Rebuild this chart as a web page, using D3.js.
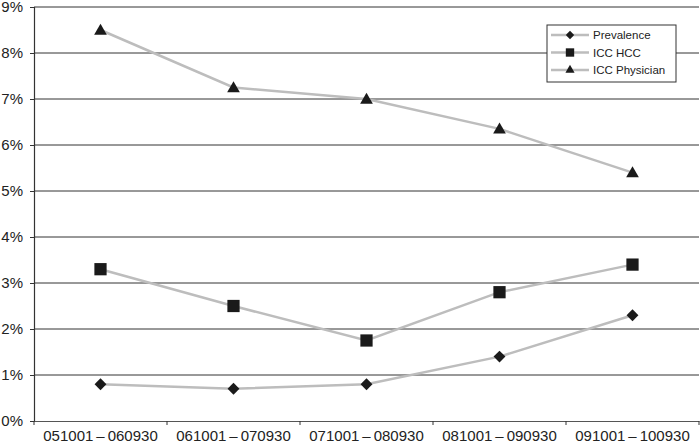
<!DOCTYPE html>
<html><head><meta charset="utf-8">
<script src="https://cdn.jsdelivr.net/npm/d3@7"></script>
<style>body{margin:0;background:#fff}svg{display:block;font-family:Arial,"Liberation Sans",sans-serif}</style>
</head><body><svg id="c" width="700" height="447"></svg>
<script>
const categories = ["051001\u2009\u2013\u2009060930","061001\u2009\u2013\u2009070930","071001\u2009\u2013\u2009080930","081001\u2009\u2013\u2009090930","091001\u2009\u2013\u2009100930"];
const prevalence = [0.8, 0.7, 0.8, 1.4, 2.3];
const iccHcc = [3.3, 2.5, 1.75, 2.8, 3.4];
const iccPhysician = [8.5, 7.25, 7.0, 6.35, 5.4];
const yTicks = [0,1,2,3,4,5,6,7,8,9];
const seriesNames = ["Prevalence","ICC HCC","ICC Physician"];

const svg = d3.select("#c");
const m = {l:34, r:1, t:7, b:26};
const W = 700, H = 447;
const x = d3.scaleBand().domain(categories).range([m.l, W - m.r]);
const y = d3.scaleLinear().domain([0, 9]).range([H - m.b, m.t]);

// gridlines
svg.append("g").selectAll("line").data(yTicks.slice(1)).join("line")
  .attr("x1", m.l).attr("x2", W - m.r)
  .attr("y1", d => y(d)).attr("y2", d => y(d))
  .attr("stroke", "#333").attr("stroke-width", 1);

// y axis
const ya = svg.append("g").attr("transform", `translate(${m.l},0)`)
  .call(d3.axisLeft(y).tickValues(yTicks).tickFormat(d => d + "%").tickSize(4).tickPadding(7));
ya.select(".domain").attr("stroke", "#333").attr("stroke-width", 1.2);
ya.selectAll(".tick line").attr("stroke", "#333");
ya.selectAll("text").attr("font-size", 15).attr("fill", "#222").attr("font-family", "Arial, 'Liberation Sans', sans-serif");

// x axis
const xa = svg.append("g").attr("transform", `translate(0,${H - m.b})`)
  .call(d3.axisBottom(x).tickSize(0).tickPadding(9));
xa.select(".domain").attr("stroke", "#555").attr("stroke-width", 1.2);
xa.selectAll("text").attr("font-size", 15).attr("fill", "#222").attr("font-family", "Arial, 'Liberation Sans', sans-serif");
// boundary ticks between categories
const bounds = categories.map(c => x(c)).concat([x(categories[categories.length-1]) + x.bandwidth()]);
svg.append("g").selectAll("line").data(bounds).join("line")
  .attr("x1", d => d).attr("x2", d => d)
  .attr("y1", H - m.b).attr("y2", H - m.b + 4)
  .attr("stroke", "#333");

const cx = c => x(c) + x.bandwidth() / 2;
const line = d3.line().x((d, i) => cx(categories[i])).y(d => y(d));

const data = [prevalence, iccHcc, iccPhysician];
const symbols = [d3.symbolDiamond2, d3.symbolSquare, d3.symbolTriangle];
const sizes = [90, 150, 70];

data.forEach((vals, si) => {
  svg.append("path").datum(vals).attr("d", line)
    .attr("fill", "none").attr("stroke", "#bdbdbd").attr("stroke-width", 2.5);
});
data.forEach((vals, si) => {
  svg.append("g").selectAll("path").data(vals).join("path")
    .attr("transform", (d, i) => `translate(${cx(categories[i])},${y(d) + (si===2?1:0)})`)
    .attr("d", d3.symbol().type(symbols[si]).size(sizes[si]))
    .attr("fill", "#1a1a1a");
});

// legend
const lg = svg.append("g").attr("transform", "translate(547,25)");
lg.append("rect").attr("width", 129).attr("height", 57).attr("fill", "#fff").attr("stroke", "#333").attr("stroke-width", 1);
const lsizes = [45, 70, 36];
seriesNames.forEach((n, i) => {
  const yy = 10 + i * 17.5;
  lg.append("line").attr("x1", 4).attr("x2", 42).attr("y1", yy).attr("y2", yy).attr("stroke", "#bdbdbd").attr("stroke-width", 2.5);
  lg.append("path").attr("transform", `translate(23,${yy})`).attr("d", d3.symbol().type(symbols[i]).size(lsizes[i])).attr("fill", "#1a1a1a");
  lg.append("text").attr("x", 46).attr("y", yy + 4).attr("font-size", 11.5).attr("fill", "#222").text(n);
});
</script></body></html>
